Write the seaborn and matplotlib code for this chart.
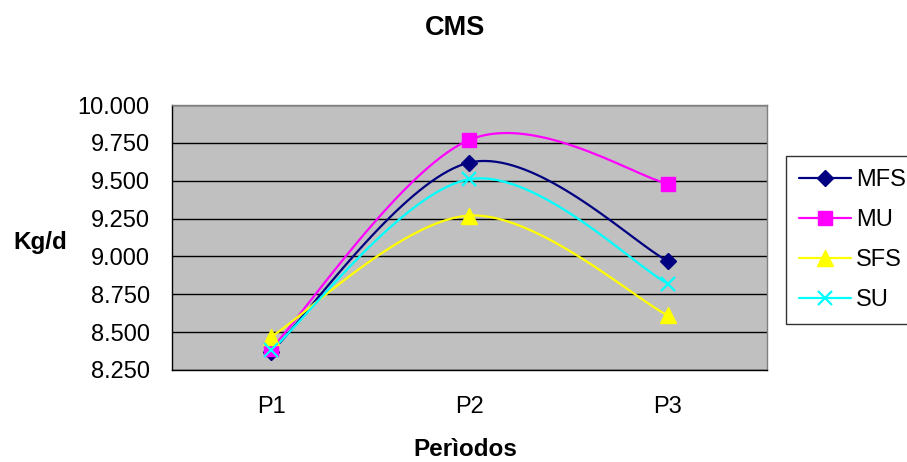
import numpy as np
import pandas as pd
import matplotlib
matplotlib.use("Agg")
import matplotlib.pyplot as plt
import seaborn as sns

categories = ["P1", "P2", "P3"]
mfs = [8.37, 9.62, 8.97]
mu = [8.39, 9.77, 9.48]
sfs = [8.47, 9.27, 8.61]
su = [8.38, 9.51, 8.82]
series_names = ["MFS", "MU", "SFS", "SU"]
yticks = [8.25, 8.5, 8.75, 9.0, 9.25, 9.5, 9.75, 10.0]
ytick_labels = ["8.250", "8.500", "8.750", "9.000", "9.250", "9.500", "9.750", "10.000"]

colors = {"MFS": "#000080", "MU": "#FF00FF", "SFS": "#FFFF00", "SU": "#00FFFF"}
markers = {"MFS": "D", "MU": "s", "SFS": "^", "SU": "x"}
msizes = {"MFS": 8, "MU": 9.5, "SFS": 11, "SU": 10}

df = pd.DataFrame({"Periodo": categories * 4,
                   "serie": sum([[n] * 3 for n in series_names], []),
                   "valor": mfs + mu + sfs + su})
df["x"] = df["Periodo"].map({c: i for i, c in enumerate(categories)})

sns.set_style("white")
plt.rcParams['font.family'] = ['Liberation Sans', 'DejaVu Sans']
plt.rcParams['text.color'] = 'black'
plt.rcParams['xtick.color'] = 'black'
plt.rcParams['ytick.color'] = 'black'
plt.rcParams['axes.labelcolor'] = 'black'

fig = plt.figure(figsize=(9.07, 4.62), dpi=100)
ax = fig.add_axes([172 / 907, 1 - 370 / 462, (767 - 172) / 907, (370 - 105) / 462])
ax.set_facecolor("#C0C0C0")


def smooth(xs, ys, n=40):
    xs = np.asarray(xs, float); ys = np.asarray(ys, float)
    px = np.concatenate([[xs[0]], xs, [xs[-1]]])
    py = np.concatenate([[ys[0]], ys, [ys[-1]]])
    ox, oy = [], []
    t = np.linspace(0, 1, n)
    for i in range(1, len(px) - 2):
        p0x, p1x, p2x, p3x = px[i - 1], px[i], px[i + 1], px[i + 2]
        p0y, p1y, p2y, p3y = py[i - 1], py[i], py[i + 1], py[i + 2]
        c1x = p1x + (p2x - p0x) / 6; c1y = p1y + (p2y - p0y) / 6
        c2x = p2x - (p3x - p1x) / 6; c2y = p2y - (p3y - p1y) / 6
        bx = (1 - t) ** 3 * p1x + 3 * (1 - t) ** 2 * t * c1x + 3 * (1 - t) * t ** 2 * c2x + t ** 3 * p2x
        by = (1 - t) ** 3 * p1y + 3 * (1 - t) ** 2 * t * c1y + 3 * (1 - t) * t ** 2 * c2y + t ** 3 * p2y
        ox.extend(bx); oy.extend(by)
    return np.array(ox), np.array(oy)


handles = []
for name in series_names:
    sub = df[df["serie"] == name]
    sx, sy = smooth(sub["x"], sub["valor"])
    sns.lineplot(x=sx, y=sy, ax=ax, color=colors[name], lw=1.6, sort=False, zorder=3)
    mk = markers[name]
    if mk == "x":
        ax.plot(sub["x"], sub["valor"], ls="none", marker="x", ms=msizes[name], mew=1.6,
                color=colors[name], zorder=4)
    else:
        ax.plot(sub["x"], sub["valor"], ls="none", marker=mk, ms=msizes[name],
                color=colors[name], mec=colors[name], zorder=4)
    h, = plt.plot([], [], color=colors[name], lw=1.6, marker=mk, ms=msizes[name],
                  mew=1.6 if mk == "x" else 1, mec=colors[name])
    handles.append(h)

ax.set_xlim(-0.5, 2.5)
ax.set_ylim(8.25, 10.0)
ax.set_yticks(yticks)
ax.set_yticklabels(ytick_labels, fontsize=17)
ax.set_xticks([0, 1, 2])
ax.set_xticklabels(categories, fontsize=17)
ax.set_xticks([-0.5, 0.5, 1.5, 2.5], minor=True)
ax.tick_params(axis="x", which="major", length=0, pad=19)
ax.tick_params(axis="x", which="minor", length=7, color="black", width=1, direction="out")
ax.tick_params(axis="y", which="major", length=6, color="black", width=1, direction="out", pad=10)
ax.yaxis.grid(True, color="black", lw=1)
ax.xaxis.grid(False)
ax.set_axisbelow(True)
for s in ["top", "right"]:
    ax.spines[s].set_color("#808080")
    ax.spines[s].set_linewidth(1)
for s in ["left", "bottom"]:
    ax.spines[s].set_color("black")
    ax.spines[s].set_linewidth(1)

ax.set_xlabel("")
ax.set_ylabel("")
fig.text(455 / 907, 1 - 28 / 462, "CMS", ha="center", va="center", fontsize=19.5, fontweight="bold")
fig.text(40 / 907, 1 - 242 / 462, "Kg/d", ha="center", va="center", fontsize=17.5, fontweight="bold")
fig.text(465 / 907, 1 - 449 / 462, "Perìodos", ha="center", va="center", fontsize=17.5, fontweight="bold")

leg = fig.legend(handles, series_names, loc="upper left",
                 bbox_to_anchor=(786 / 907, 1 - 156 / 462), frameon=True, fontsize=17,
                 handlelength=2.2, handletextpad=0.2, labelspacing=0.76,
                 borderpad=0.55, borderaxespad=0, fancybox=False)
leg.get_frame().set_edgecolor("black")
leg.get_frame().set_linewidth(1)

fig.savefig("out.png", dpi=100, facecolor="white")
